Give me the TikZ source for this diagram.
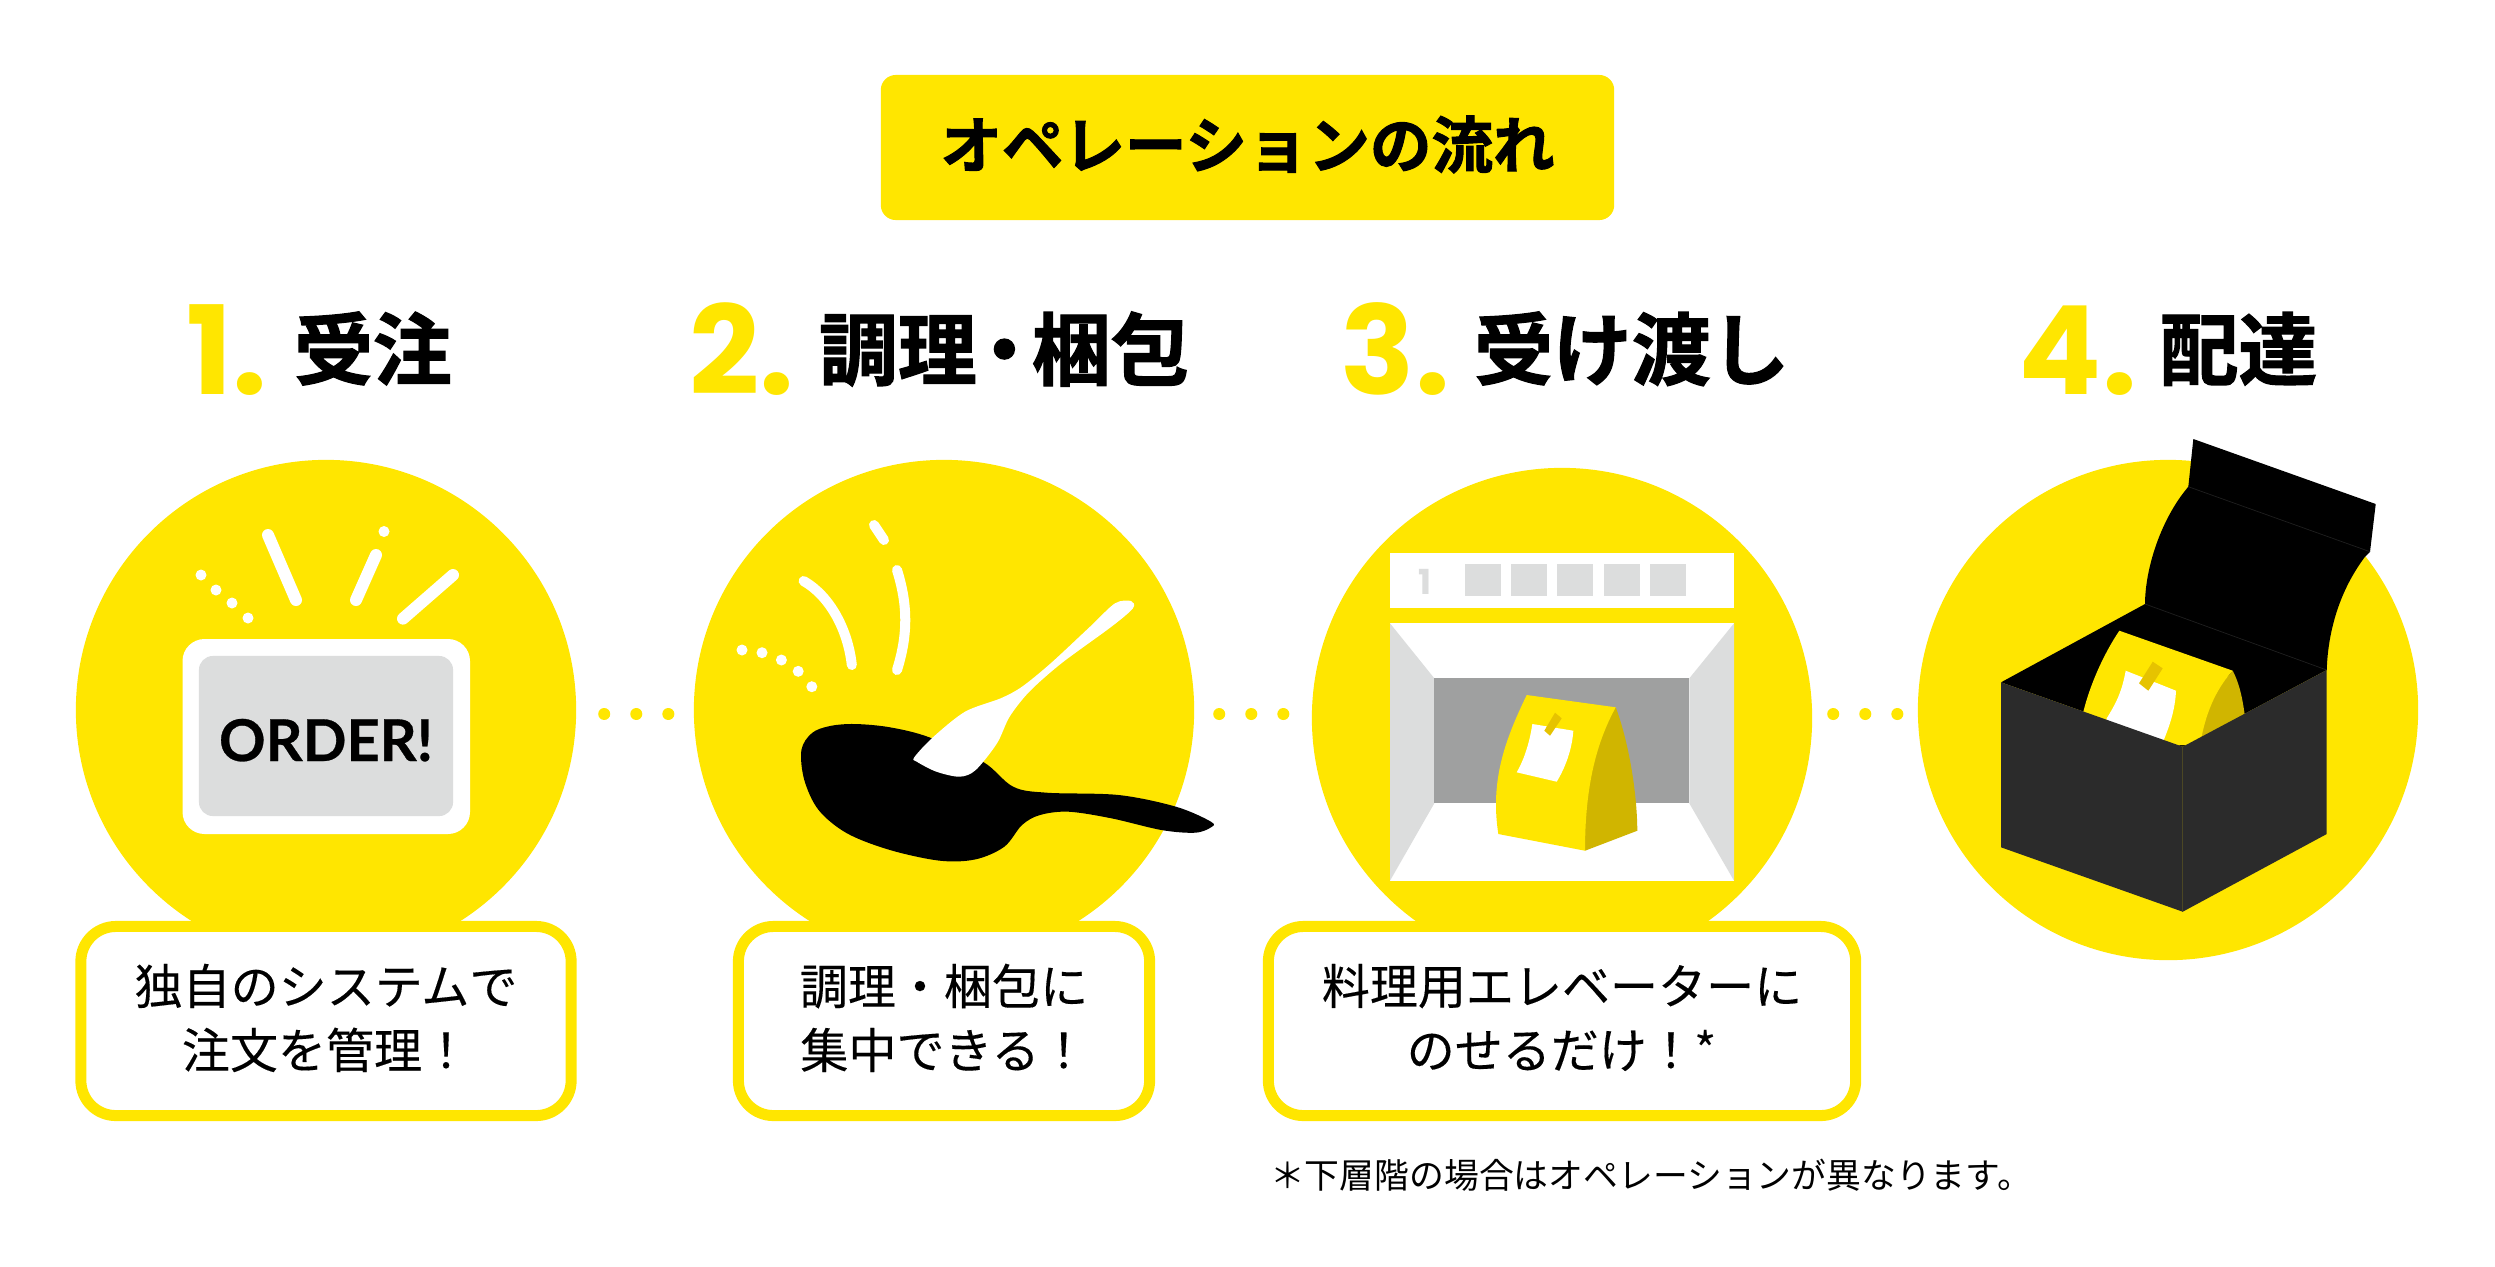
\documentclass[tikz,border=0pt]{standalone}
\usepackage{fontspec}
\usepackage{xcolor}
\usepackage{tikz}
\usetikzlibrary{arrows.meta,positioning,calc}
\newfontfamily\jpbody[FakeBold=0.25]{Noto Sans CJK JP}
\newfontfamily\jpnote{Noto Sans CJK JP}
\newfontfamily\jpheavy[FakeBold=1.6]{Noto Sans CJK JP Bold}
\newfontfamily\numfont{Poppins}
\newfontfamily\orderfont[BoldFeatures={FakeBold=0.5}]{Lato}
\definecolor{flowYellow}{RGB}{255,230,0}
\definecolor{flowOchre} {RGB}{208,181,0}
\definecolor{flowTape}  {RGB}{230,195,0}
\definecolor{flowGray}  {RGB}{220,221,221}
\definecolor{flowBack}  {RGB}{159,160,160}
\definecolor{flowBox}   {RGB}{43,43,43}
\tikzset{
  stepdisc/.style={circle,fill=flowYellow,minimum size=5cm,inner sep=0pt,outer sep=0pt},
  msgbox/.style={draw=flowYellow,fill=white,line width=0.11cm,rounded corners=0.35cm,
                 minimum height=1.89cm,align=center,inner sep=0pt,outer sep=0pt,
                 font=\jpbody\fontsize{13.66pt}{18.2pt}\selectfont,
                 execute at end node={\rule[-0.1cm]{0pt}{0pt}}},
  stepnum/.style={anchor=base west,inner sep=0pt,text=flowYellow,
                  font=\numfont\bfseries\fontsize{35pt}{35pt}\selectfont},
  steptitle/.style={anchor=base west,inner sep=0pt,
                    font=\jpheavy\fontsize{22.4pt}{24pt}\selectfont},
  dotlink/.style={flowYellow,line width=0.12cm,line cap=round},
  spark/.style={white,line width=0.12cm,line cap=round},
}
\begin{document}
\begin{tikzpicture}[x=0.01cm,y=-0.01cm]
  \useasboundingbox (0,0) rectangle (2495,1266);

  % -- TITLE ----------------------------------------------
  \node[fill=flowYellow,rounded corners=0.15cm,minimum width=7.33cm,minimum height=1.45cm,
        inner sep=0pt,font=\jpheavy\fontsize{17.5pt}{20pt}\selectfont]
        (title) at (1247.5,147.5){\raisebox{-0.205cm}[0pt][0pt]{オペレーションの流れ}};

  % -- HEADINGS -------------------------------------------
  \node[stepnum] (numa) at (186,394){1.};
  \node[steptitle] (heada) at (293.5,379){受注};
  \node[stepnum] (numb) at (689,394){2.};
  \node[steptitle] (headb) at (818.5,379){調理\hspace{-.15em}・\hspace{-.15em}梱包};
  \node[stepnum] (numc) at (1340,394){3.};
  \node[steptitle] (headc) at (1473.5,379){受け渡し};
  \node[stepnum] (numd) at (2018,394){4.};
  \node[steptitle] (headd) at (2159,379){配達};

  % -- DISCS AND DOTS -------------------------------------
  \node[stepdisc] (stepa) at (326,710){};
  \node[stepdisc] (stepb) at (944,710){};
  \node[stepdisc] (stepc) at (1562,718){};
  \node[stepdisc] (stepd) at (2168,710){};
  \draw[dotlink,dash pattern=on 0.01pt off 0.32cm,dash phase=0.04cm]
    ([yshift=-0.04cm]stepa.east) -- ([yshift=-0.04cm]stepb.west);
  \draw[dotlink,dash pattern=on 0.01pt off 0.32cm,dash phase=0.07cm]
    ([yshift=-0.04cm]stepb.east) -- ([yshift=0.04cm]stepc.west);
  \draw[dotlink,dash pattern=on 0.01pt off 0.32cm,dash phase=0.11cm]
    ([yshift=0.04cm]stepc.east) -- ([yshift=-0.04cm]stepd.west);

  % -- MESSAGES -------------------------------------------
  \node[msgbox,minimum width=4.9cm] (msga) at (326,1021){独自のシステムで\\注文を管理！};
  \node[msgbox,minimum width=4.11cm] (msgb) at (944,1021){調理・梱包に\\集中できる！};
  \node[msgbox,minimum width=5.87cm] (msgc) at (1562,1021){料理用エレベーターに\\のせるだけ！{\jpnote *}};
  \node[anchor=center,inner sep=0pt,font=\jpnote\fontsize{9.9pt}{12pt}\selectfont]
        (note) at (1651,1175){＊下層階の場合はオペレーションが異なります。};

  % -- ORDER SCREEN ---------------------------------------
  \fill[white,rounded corners=0.22cm] (182.5,639) rectangle (470,834);
  \node[fill=flowGray,rounded corners=0.14cm,minimum width=2.54cm,minimum height=1.6cm,
        inner sep=0pt,font=\orderfont\bfseries\fontsize{16.4pt}{18pt}\selectfont]
        (screen) at (326,736){\raisebox{-0.25cm}[0pt][0pt]{ORDER!}};
  \draw[spark] (268,535)--(296,600);
  \draw[spark] (376,555)--(356,600);
  \draw[spark] (453,575)--(403,618.6);
  \foreach \x/\y in {384/531.5,201/575,216/590,232/603,248/618}{
    \fill[white] (\x,\y) circle (0.055cm);
  }

  % -- PAN ------------------------------------------------
  \draw[spark,line width=0.1cm] (803.6,581) .. controls (830,596) and (848,630) .. (851.8,665);
  \draw[spark,line width=0.1cm] (897,570) .. controls (908,605) and (908,635) .. (897,670);
  \draw[spark,line width=0.1cm] (874,525) -- (884,540);
  \foreach \x/\y in {742/650,762/652.7,781.4/660,798.2/671.3,811.8/686.7}{
    \fill[white] (\x,\y) circle (0.055cm);
  }
  \fill[black] plot[smooth cycle,tension=0.55] coordinates {
    (801.4,750) (812,733) (830,726) (855,724) (890,727.3) (929.3,737.3) (982.9,761.7)
    (1013.2,786.7) (1047,792.7) (1118.6,795) (1176,806.7) (1211,821.7) (1211,827.3)
    (1195,832.7) (1161.4,830) (1111.4,818.3) (1068.6,811.7) (1040,815) (1022,825)
    (1004.3,846.7) (975.7,859.3) (940,860.7) (890,850) (847,833.3) (818.6,810) (804.3,780)};
  \fill[white] plot[smooth cycle,tension=0.5] coordinates {
    (914.3,757.3) (932.9,737.3) (965,711.7) (1000.7,698.3) (1022,686.7) (1050.7,663.3)
    (1090,626.7) (1115,603.3) (1131,601) (1132.9,608.3) (1111.4,626.7) (1061.4,663.3)
    (1029.3,691.7) (1009.6,716.7) (997,743.3) (975.7,770) (959.6,776.7) (936.4,771.7)
    (916.8,761.7)};

  % -- ELEVATOR -------------------------------------------
  \fill[white] (1390,553.3) rectangle (1734,607.7);
  \foreach \x in {1464.7,1511,1557.3,1603.7,1650}{
    \fill[flowGray] (\x,564) rectangle (\x+36,596);
  }
  \node[inner sep=0pt,text=flowGray,font=\numfont\bfseries\fontsize{9.8pt}{10pt}\selectfont]
        (floor) at (1425,582){1};
  \fill[white] (1390,623.3) rectangle (1734,880.7);
  \fill[flowGray] (1390,623.3)--(1434.3,678.3)--(1434.3,803.3)--(1390,880.7)--cycle;
  \fill[flowGray] (1734,623.3)--(1689.3,678.3)--(1689.3,803.3)--(1734,880.7)--cycle;
  \fill[flowBack] (1434.3,678.3) rectangle (1689.3,803.3);
  % Sacola
  \fill[flowOchre] (1615.7,707.3) .. controls (1628,740) and (1637,790) .. (1637.3,830.7)
    -- (1585,850.7) -- (1570,780) -- cycle;
  \fill[flowYellow] (1526.7,695) -- (1615.7,707.3) .. controls (1595,745) and (1585,790) .. (1585,850.7)
    -- (1498.3,834) .. controls (1490,780) and (1505,740) .. (1526.7,695) -- cycle;
  \fill[white] (1532.3,724) -- (1573.3,730.7) .. controls (1572,750) and (1565,768) .. (1556.7,781.7)
    -- (1516.7,772.3) .. controls (1525,758) and (1530,740) .. (1532.3,724) -- cycle;
  \fill[flowTape] (1555,712.7)--(1561.7,718.3)--(1550,735.7)--(1544.3,730.7)--cycle;

  % -- DELIVERY BOX ---------------------------------------
  \fill[black] (2001,682.3)--(2145,604) .. controls (2145,570) and (2160,520) .. (2188.3,486.7)
    -- (2193.3,439) -- (2375.7,504) -- (2370,551.7) -- (2365,556.7)
    .. controls (2340,590) and (2328,630) .. (2326.7,670) -- (2182.7,746.7) -- cycle;
  \draw[black!88,line width=0.2pt] (2188.3,486.7)--(2370,551.7);
  \draw[black!88,line width=0.2pt] (2145,604)--(2326.7,670);
  % Sacola
  \fill[flowOchre] (2232.7,670.7) .. controls (2240,685) and (2243,700) .. (2246,725)
    -- (2190,760) -- (2190,720) -- cycle;
  \fill[flowYellow] (2119.3,630.7) -- (2232.7,670.7) .. controls (2215,690) and (2205,715) .. (2200,745)
    -- (2083,745) -- (2083.3,711.7) .. controls (2090,685) and (2103,655) .. (2119.3,630.7) -- cycle;
  \fill[white] (2125.7,670.7) -- (2176,690.7) .. controls (2175,710) and (2170,725) .. (2161.7,745)
    -- (2106.7,725) -- (2106.7,718.3) .. controls (2118,700) and (2122,690) .. (2125.7,670.7) -- cycle;
  \fill[flowTape] (2152.7,661.7)--(2162.7,668.3)--(2148.3,690.7)--(2139,683.3)--cycle;
  % Caixa
  \fill[flowBox] (2001,682.3)--(2182.7,746.7)--(2182.7,911.7)--(2001,847.3)--cycle;
  \fill[flowBox] (2182.7,746.7)--(2326.7,670)--(2326.7,834)--(2182.7,911.7)--cycle;
  \draw[flowBox!85!flowYellow,line width=0.3pt] (2182.7,746.7)--(2182.7,911.7);

\end{tikzpicture}
\end{document}
